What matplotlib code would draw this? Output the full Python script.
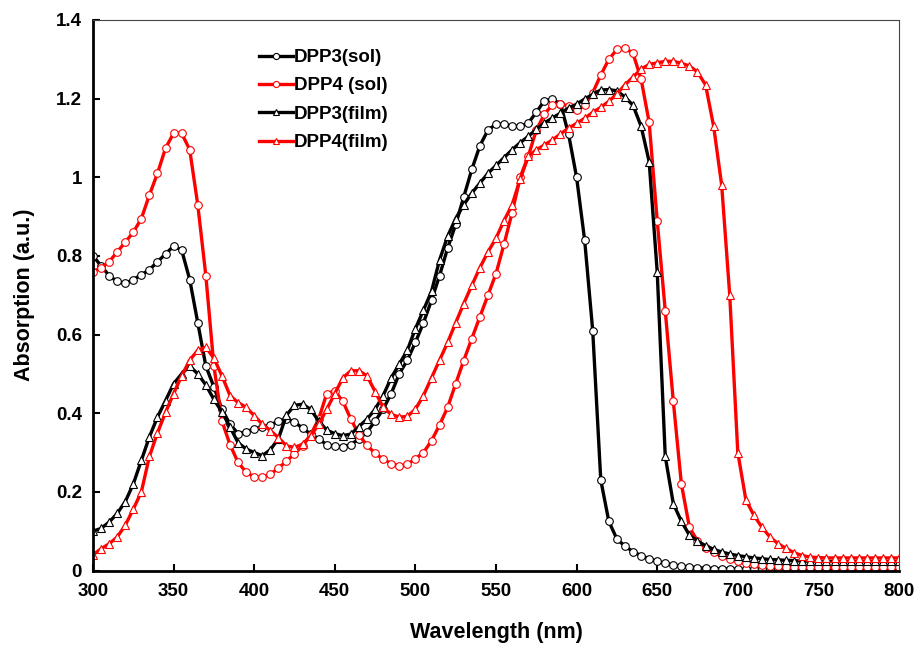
# UV-vis absorption spectra of DPP3 / DPP4 in solution and as film
import matplotlib.pyplot as plt
from matplotlib.ticker import FuncFormatter

plt.rcParams['font.family'] = ['Liberation Sans', 'DejaVu Sans']
plt.rcParams['font.weight'] = 'bold'

# wavelength (nm), one point every 5 nm
wavelength = list(range(300, 805, 5))

dpp3_sol = [
    0.80, 0.775, 0.75, 0.735, 0.73, 0.74, 0.752, 0.765, 0.785, 0.805,
    0.825, 0.815, 0.74, 0.63, 0.52, 0.467, 0.41, 0.372, 0.348, 0.353,
    0.36, 0.364, 0.37, 0.38, 0.385, 0.378, 0.362, 0.347, 0.335, 0.32,
    0.316, 0.315, 0.32, 0.335, 0.352, 0.38, 0.41, 0.45, 0.50, 0.535,
    0.58, 0.63, 0.687, 0.75, 0.82, 0.88, 0.95, 1.02, 1.08, 1.12,
    1.135, 1.135, 1.13, 1.13, 1.138, 1.165, 1.195, 1.198, 1.187, 1.11,
    1.0, 0.84, 0.61, 0.23, 0.125, 0.08, 0.062, 0.048, 0.038, 0.03,
    0.023, 0.018, 0.014, 0.011, 0.009, 0.007, 0.006, 0.005, 0.004, 0.004,
    0.003, 0.003, 0.003, 0.003, 0.003, 0.003, 0.003, 0.003, 0.003, 0.003,
    0.003, 0.003, 0.003, 0.003, 0.003, 0.003, 0.003, 0.003, 0.003, 0.003,
    0.003,
]

dpp4_sol = [
    0.76, 0.77, 0.785, 0.81, 0.835, 0.86, 0.895, 0.955, 1.01, 1.074,
    1.112, 1.112, 1.07, 0.93, 0.75, 0.52, 0.38, 0.32, 0.275, 0.25,
    0.238, 0.237, 0.245, 0.26, 0.278, 0.297, 0.317, 0.345, 0.385, 0.45,
    0.457, 0.43, 0.385, 0.345, 0.318, 0.298, 0.283, 0.272, 0.266, 0.27,
    0.284, 0.30, 0.33, 0.37, 0.415, 0.475, 0.534, 0.59, 0.645, 0.70,
    0.755, 0.83, 0.91, 1.0, 1.053, 1.12, 1.16, 1.185, 1.186, 1.182,
    1.17, 1.183, 1.215, 1.26, 1.30, 1.325, 1.329, 1.315, 1.25, 1.14,
    0.89, 0.66, 0.43, 0.22, 0.11, 0.075, 0.058, 0.046, 0.036, 0.029,
    0.023, 0.019, 0.016, 0.014, 0.012, 0.011, 0.01, 0.009, 0.009, 0.008,
    0.008, 0.008, 0.008, 0.008, 0.008, 0.008, 0.008, 0.008, 0.008, 0.008,
    0.008,
]

dpp3_film = [
    0.10, 0.107, 0.123, 0.145, 0.175, 0.22, 0.28, 0.34, 0.39, 0.432,
    0.475, 0.50, 0.52, 0.50, 0.472, 0.435, 0.403, 0.365, 0.325, 0.309,
    0.30, 0.292, 0.307, 0.335, 0.395, 0.42, 0.423, 0.41, 0.38, 0.357,
    0.348, 0.343, 0.347, 0.366, 0.385, 0.41, 0.445, 0.49, 0.525, 0.56,
    0.615, 0.662, 0.71, 0.79, 0.85, 0.895, 0.93, 0.96, 0.985, 1.01,
    1.03, 1.05, 1.07, 1.088, 1.104, 1.122, 1.138, 1.151, 1.163, 1.176,
    1.186, 1.199, 1.211, 1.222, 1.223, 1.22, 1.204, 1.183, 1.13, 1.04,
    0.76, 0.29, 0.17, 0.125, 0.09, 0.075, 0.063, 0.054, 0.047, 0.042,
    0.038, 0.035, 0.032, 0.03, 0.028, 0.027, 0.026, 0.025, 0.024, 0.024,
    0.024, 0.023, 0.023, 0.023, 0.023, 0.023, 0.023, 0.023, 0.023, 0.023,
    0.023,
]

dpp4_film = [
    0.04, 0.055, 0.068, 0.085, 0.115, 0.156, 0.20, 0.29, 0.35, 0.402,
    0.45, 0.495, 0.535, 0.56, 0.568, 0.54, 0.495, 0.445, 0.427, 0.415,
    0.394, 0.372, 0.356, 0.338, 0.317, 0.313, 0.321, 0.342, 0.372, 0.41,
    0.45, 0.49, 0.508, 0.508, 0.495, 0.455, 0.415, 0.397, 0.39, 0.392,
    0.41, 0.445, 0.49, 0.535, 0.58, 0.63, 0.679, 0.725, 0.77, 0.81,
    0.845, 0.89, 0.93, 0.995, 1.053, 1.07, 1.082, 1.095, 1.11, 1.125,
    1.137, 1.15, 1.165, 1.178, 1.193, 1.212, 1.235, 1.255, 1.275, 1.287,
    1.291, 1.295, 1.295, 1.29, 1.283, 1.268, 1.235, 1.13, 0.98, 0.70,
    0.30, 0.18, 0.14, 0.11, 0.085, 0.068, 0.056, 0.045, 0.038, 0.034,
    0.033, 0.032, 0.032, 0.032, 0.032, 0.032, 0.032, 0.032, 0.032, 0.032,
    0.032,
]

series = [
    ("DPP3(sol)", dpp3_sol, "black", "o"),
    ("DPP4 (sol)", dpp4_sol, "red", "o"),
    ("DPP3(film)", dpp3_film, "black", "^"),
    ("DPP4(film)", dpp4_film, "red", "^"),
]

fig = plt.figure(figsize=(9.18, 6.45), dpi=100)
ax = fig.add_axes([0.1013, 0.1155, 0.878, 0.8535])

for name, vals, col, mk in series:
    ax.plot(wavelength, vals, color=col, linewidth=2.4, marker=mk,
            markersize=5.5, markerfacecolor="white", markeredgecolor=col,
            markeredgewidth=0.8, label=name)

ax.set_xlim(300, 800)
ax.set_ylim(0, 1.4)
ax.set_xticks(range(300, 801, 50))
ax.set_yticks([0, 0.2, 0.4, 0.6, 0.8, 1.0, 1.2, 1.4])
ax.yaxis.set_major_formatter(FuncFormatter(lambda v, p: f"{v:g}"))
ax.tick_params(direction="in", length=5, width=1.5, labelsize=13.5)
ax.tick_params(axis="y", pad=8)
ax.tick_params(axis="x", pad=9)

for side in ["left", "bottom"]:
    ax.spines[side].set_linewidth(2)
for side in ["top", "right"]:
    ax.spines[side].set_linewidth(0.8)
    ax.spines[side].set_color("#444444")

ax.set_xlabel("Wavelength (nm)", fontsize=15.5, fontweight="bold", labelpad=16)
ax.set_ylabel("Absorption (a.u.)", fontsize=15.5, fontweight="bold", labelpad=15)

ax.legend(loc="upper left", bbox_to_anchor=(0.185, 0.978), frameon=False,
          fontsize=13.5, handlelength=1.8, handletextpad=0.05, labelspacing=0.6,
          markerscale=0.8)

fig.savefig("out.png", dpi=100)
